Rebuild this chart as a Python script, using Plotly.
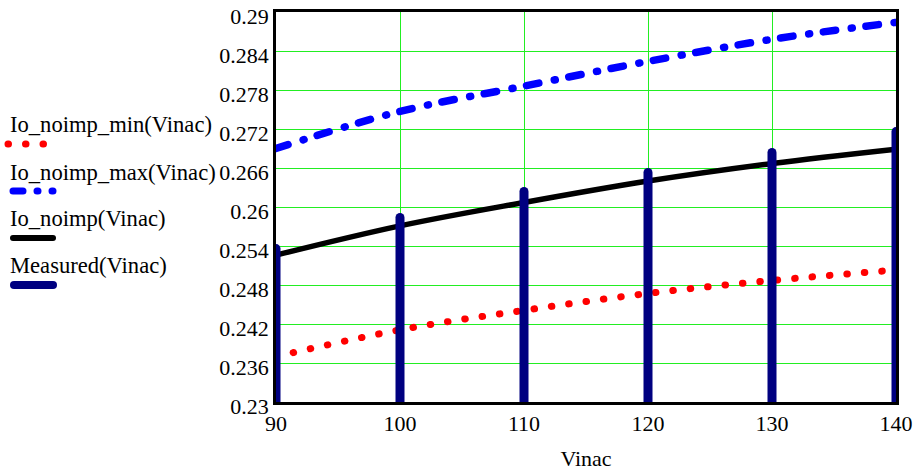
import plotly.graph_objects as go

# ---- data ----
vinac = [90, 100, 110, 120, 130, 140]
io_noimp_min = [0.2370, 0.2411, 0.2441, 0.2467, 0.2487, 0.2503]
io_noimp_max = [0.2690, 0.2747, 0.2786, 0.2824, 0.2858, 0.2884]
io_noimp = [0.2526, 0.2571, 0.2607, 0.2640, 0.2667, 0.2689]
measured = [0.2536, 0.2584, 0.2624, 0.2653, 0.2684, 0.2716]

y_min, y_max = 0.23, 0.29
y_ticks = [0.23, 0.236, 0.242, 0.248, 0.254, 0.26, 0.266, 0.272, 0.278, 0.284, 0.29]
y_tick_text = ["0.23", "0.236", "0.242", "0.248", "0.254", "0.26", "0.266", "0.272", "0.278", "0.284", "0.29"]
x_ticks = [90, 100, 110, 120, 130, 140]

legend_names = ["Io_noimp_min(Vinac)", "Io_noimp_max(Vinac)", "Io_noimp(Vinac)", "Measured(Vinac)"]

W, H = 918, 471
L, R, T, B = 276, 22, 12, 69
FONT = "Liberation Serif"

RED_DASH = "0.5px,17px"
BLUE_DASH = "12.5px,15.8px,1px,13.8px"

fig = go.Figure()

fig.add_trace(go.Scatter(x=vinac, y=io_noimp_min, mode="lines", line=dict(color="#ff0000", width=7, dash=RED_DASH, shape="spline"), name=legend_names[0]))
fig.add_trace(go.Scatter(x=vinac, y=io_noimp_max, mode="lines", line=dict(color="#0000ff", width=7.5, dash=BLUE_DASH, shape="spline"), name=legend_names[1]))
fig.add_trace(go.Scatter(x=vinac, y=io_noimp, mode="lines", line=dict(color="#000000", width=5.5, shape="spline"), name=legend_names[2]))

# measured: vertical stems from the axis base to each value
stem_x, stem_y = [], []
for xv, yv in zip(vinac, measured):
    stem_x += [xv, xv, None]
    stem_y += [y_min, yv, None]
fig.add_trace(go.Scatter(x=stem_x, y=stem_y, mode="lines", line=dict(color="#000080", width=9), name=legend_names[3]))

# ---- custom legend on the left ----
pw, ph = W - L - R, H - T - B
def px2x(px):
    return (px - L) / pw
def py2y(py):
    return (H - B - py) / ph

legend_rows = [
    (legend_names[0], 125, 144, dict(color="#ff0000", width=7, dash=RED_DASH), 8),
    (legend_names[1], 172, 191, dict(color="#0000ff", width=7, dash="10px,14px,1px,14px"), 13),
    (legend_names[2], 218, 238, dict(color="#000000", width=6), 13),
    (legend_names[3], 265, 285, dict(color="#000080", width=8), 14),
]
annotations = []
shapes = []
for name, ty, sy, ln, x0 in legend_rows:
    annotations.append(dict(text=name, x=px2x(8), y=py2y(ty), xref="paper", yref="paper",
                            xanchor="left", yanchor="middle", showarrow=False,
                            font=dict(family=FONT, size=22.6, color="#000000")))
    shapes.append(dict(type="line", xref="paper", yref="paper",
                       x0=px2x(x0), x1=px2x(53), y0=py2y(sy), y1=py2y(sy), line=ln))

fig.update_layout(
    width=W, height=H,
    margin=dict(l=L, r=R, t=T, b=B, autoexpand=False),
    paper_bgcolor="white", plot_bgcolor="white",
    showlegend=False,
    annotations=annotations,
    shapes=shapes,
    font=dict(family=FONT, size=22, color="#000000"),
    xaxis=dict(range=[90, 140], tickvals=x_ticks, ticktext=[str(v) for v in x_ticks],
               showgrid=True, gridcolor="#22ee22", gridwidth=1,
               showline=True, linecolor="#000000", linewidth=2.5, mirror=True,
               zeroline=False, ticks="", automargin=False, ticklabeloverflow="allow",
               title=dict(text="Vinac", font=dict(family=FONT, size=22), standoff=18),
               tickfont=dict(family=FONT, size=22)),
    yaxis=dict(range=[y_min, y_max], tickvals=y_ticks, ticktext=y_tick_text,
               showgrid=True, gridcolor="#22ee22", gridwidth=1,
               showline=True, linecolor="#000000", linewidth=2.5, mirror=True,
               zeroline=False, ticks="", automargin=False, ticklabeloverflow="allow",
               ticklabelshift=4,
               tickfont=dict(family=FONT, size=22)),
)

post = """
document.body.style.margin = '0';
document.body.style.padding = '0';
var gd = document.getElementById('{plot_id}');
gd.querySelectorAll('.js-line, .shapelayer path').forEach(function(p){
  p.style.strokeLinecap = 'round';
  p.style.strokeLinejoin = 'round';
});
"""
fig.write_html("out.html", post_script=post, config={"displayModeBar": False})
